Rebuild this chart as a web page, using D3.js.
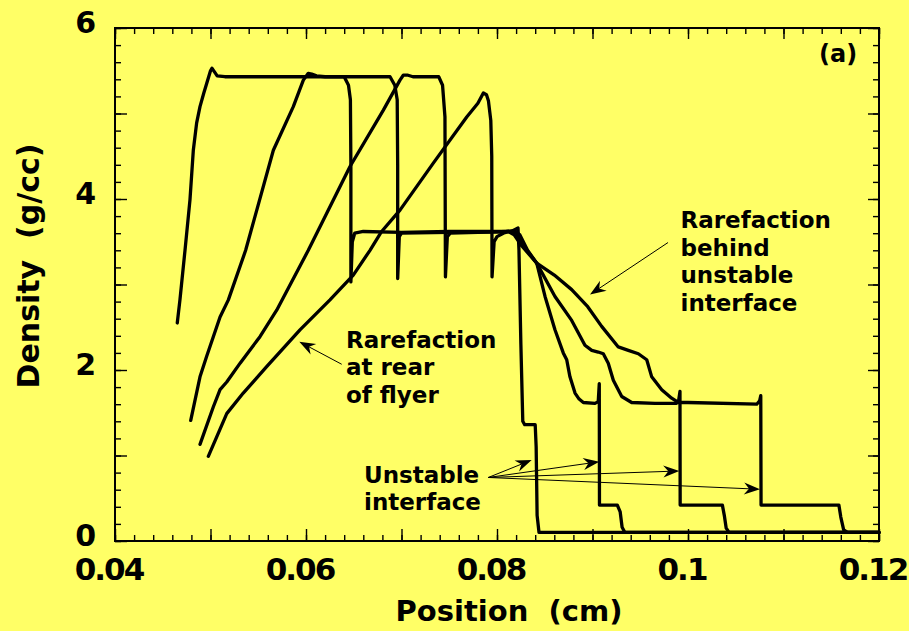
<!DOCTYPE html>
<html><head><meta charset="utf-8">
<script src="https://cdn.jsdelivr.net/npm/d3@7"></script>
<style>
html,body{margin:0;padding:0;background:#ffff66;}
svg{display:block;}
text{font-family:"DejaVu Sans",sans-serif;font-weight:bold;fill:#000;white-space:pre;}
</style></head><body>
<svg id="chart" width="909" height="631"></svg>
<script>
// ---- data: density (g/cc) vs position (cm) at four times ----
const snapshot1 = [[0.04652,2.55],[0.0468,2.82],[0.04733,3.40],[0.04785,3.99],[0.0482,4.57],[0.04855,4.89],[0.0489,5.08],[0.0493,5.24],[0.0496,5.35],[0.0500,5.50],[0.05015,5.53],[0.0504,5.49],[0.0507,5.44],[0.0515,5.43],[0.0600,5.43],[0.0640,5.43],[0.06445,5.33],[0.06465,5.16],[0.0647,4.4],[0.0647,3.03],[0.06485,3.50],[0.0651,3.60],[0.0660,3.62],[0.0700,3.61],[0.0750,3.62],[0.0800,3.62],[0.0815,3.62],[0.0822,3.66],[0.0823,3.4],[0.0825,2.3],[0.0827,1.40],[0.0829,1.36],[0.0840,1.36],[0.0841,1.1],[0.0842,0.3],[0.0844,0.1],[0.1200,0.1]];
const snapshot2 = [[0.04793,1.41],[0.0489,1.92],[0.0496,2.16],[0.0510,2.62],[0.05187,2.82],[0.05368,3.40],[0.05658,4.57],[0.05867,5.08],[0.05972,5.39],[0.06024,5.47],[0.0606,5.46],[0.0611,5.44],[0.0620,5.43],[0.0688,5.43],[0.0693,5.33],[0.06955,5.16],[0.0696,4.4],[0.0696,3.07],[0.06977,3.56],[0.0700,3.60],[0.0750,3.61],[0.0810,3.62],[0.0818,3.63],[0.0824,3.58],[0.0832,3.40],[0.08416,3.25],[0.08503,2.86],[0.08607,2.47],[0.08694,2.20],[0.0873,2.12],[0.08764,1.92],[0.08817,1.73],[0.0886,1.66],[0.08904,1.62],[0.09026,1.61],[0.0906,1.63],[0.09071,1.84],[0.09073,0.42],[0.0926,0.42],[0.0929,0.34],[0.0931,0.16],[0.0934,0.1],[0.1200,0.1]];
const snapshot3 = [[0.0489,1.13],[0.0503,1.57],[0.0510,1.77],[0.0517,1.86],[0.0531,2.08],[0.05518,2.39],[0.05693,2.70],[0.06024,3.40],[0.06461,4.38],[0.0681,5.04],[0.06984,5.39],[0.0702,5.45],[0.0706,5.45],[0.0712,5.43],[0.0739,5.43],[0.0743,5.33],[0.07455,4.96],[0.0746,3.09],[0.0748,3.56],[0.0751,3.60],[0.0780,3.61],[0.0812,3.62],[0.0820,3.60],[0.0828,3.45],[0.08416,3.25],[0.08607,2.86],[0.08782,2.58],[0.08921,2.29],[0.08992,2.23],[0.0906,2.21],[0.09113,2.19],[0.09165,2.08],[0.09218,1.88],[0.09306,1.69],[0.0941,1.62],[0.09654,1.61],[0.0988,1.61],[0.0990,1.63],[0.09916,1.75],[0.09918,0.42],[0.1036,0.42],[0.1038,0.30],[0.1040,0.15],[0.1043,0.1],[0.1200,0.1]];
const snapshot4 = [[0.04977,0.99],[0.0517,1.49],[0.05343,1.73],[0.05588,2.04],[0.05937,2.47],[0.06251,2.82],[0.06495,3.11],[0.0667,3.40],[0.06792,3.62],[0.06984,3.87],[0.07333,4.42],[0.07683,4.96],[0.0780,5.12],[0.07857,5.24],[0.0789,5.22],[0.0791,5.15],[0.07935,4.92],[0.07945,4.5],[0.07948,3.09],[0.0797,3.50],[0.0800,3.56],[0.08066,3.60],[0.0812,3.62],[0.0818,3.58],[0.0826,3.45],[0.08416,3.25],[0.0860,3.11],[0.08782,2.94],[0.0895,2.74],[0.09096,2.51],[0.0927,2.27],[0.09375,2.23],[0.0948,2.19],[0.09568,2.12],[0.0962,1.92],[0.09725,1.77],[0.09829,1.67],[0.09898,1.62],[0.1000,1.62],[0.1072,1.60],[0.1075,1.64],[0.10762,1.70],[0.10765,0.42],[0.1158,0.42],[0.1160,0.28],[0.1163,0.13],[0.1167,0.1],[0.1200,0.1]];

const xTickValues = [0.04, 0.06, 0.08, 0.1, 0.12];
const xTickLabels = ["0.04", "0.06", "0.08", "0.1", "0.12"];
const yTickValues = [0, 2, 4, 6];
const yTickLabels = ["0", "2", "4", "6"];
const xMajorTicks = [0.04, 0.05, 0.06, 0.07, 0.08, 0.09, 0.1, 0.11, 0.12];
const yMajorTicks = [0, 1, 2, 3, 4, 5, 6];
const xMinorTicks = d3.range(41).map(i => 0.04 + i * 0.002);
const yMinorTicks = d3.range(31).map(i => i * 0.2);

// annotations (label lines) and arrows [from, to] in data units
const noteBehind = ["Rarefaction", "behind", "unstable", "interface"];
const noteRear = ["Rarefaction", "at rear", "of flyer"];
const noteUnstable = ["Unstable", "interface"];
const arrowBehind = [[0.09791, 3.491], [0.08974, 2.883]];
const arrowRear = [[0.06374, 2.067], [0.0593, 2.331]];
const unstableFrom = [0.07909, 0.743];
const unstableTips = [[0.08363, 0.947], [0.09071, 0.927], [0.09909, 0.819], [0.10754, 0.605]];

// ---- layout ----
const W = 909, H = 631;
const svg = d3.select("#chart");
svg.append("rect").attr("width", W).attr("height", H).attr("fill", "#ffff66");

const x = d3.scaleLinear().domain([0.04, 0.12]).range([115, 879]);
const y = d3.scaleLinear().domain([0, 6]).range([541, 28]);
const [x0, x1] = x.range(), [y0, y1] = y.range();

function tickAxis(axisFn, scale, values, size, transform) {
  const g = svg.append("g").attr("transform", transform)
    .call(axisFn(scale).tickValues(values).tickSize(size).tickFormat(""));
  g.select(".domain").remove();
  g.selectAll(".tick line").attr("stroke", "#000").attr("stroke-width", 1.4);
}
// inward ticks on all four sides
tickAxis(d3.axisBottom, x, xMinorTicks, -6, `translate(0,${y0})`);
tickAxis(d3.axisBottom, x, xMajorTicks, -12, `translate(0,${y0})`);
tickAxis(d3.axisTop, x, xMinorTicks, -6, `translate(0,${y1})`);
tickAxis(d3.axisTop, x, xMajorTicks, -11, `translate(0,${y1})`);
tickAxis(d3.axisLeft, y, yMinorTicks, -6, `translate(${x0},0)`);
tickAxis(d3.axisLeft, y, yMajorTicks, -12, `translate(${x0},0)`);
tickAxis(d3.axisRight, y, yMinorTicks, -6, `translate(${x1},0)`);
tickAxis(d3.axisRight, y, yMajorTicks, -11, `translate(${x1},0)`);

svg.append("rect").attr("x", x0).attr("y", y1).attr("width", x1 - x0).attr("height", y0 - y1)
  .attr("fill", "none").attr("stroke", "#000").attr("stroke-width", 2);

// tick labels
svg.append("g").selectAll("text").data(xTickValues).join("text")
  .attr("x", d => x(d) - 6).attr("y", 580).attr("text-anchor", "middle")
  .attr("font-size", 31).attr("letter-spacing", -2)
  .text((d, i) => xTickLabels[i]);
svg.append("g").selectAll("text").data(yTickValues).join("text")
  .attr("x", 96).attr("y", d => y(d) + 5).attr("text-anchor", "end")
  .attr("font-size", 30)
  .text((d, i) => yTickLabels[i]);

// axis titles
svg.append("text").attr("x", 509).attr("y", 621).attr("text-anchor", "middle")
  .attr("font-size", 29).text("Position  (cm)");
svg.append("text").attr("transform", "translate(39,266) rotate(-90)").attr("text-anchor", "middle")
  .attr("font-size", 30).text("Density  (g/cc)");

// curves
const line = d3.line().x(d => x(d[0])).y(d => y(d[1]));
[snapshot1, snapshot2, snapshot3, snapshot4].forEach(s => {
  svg.append("path").datum(s).attr("d", line).attr("fill", "none")
    .attr("stroke", "#000").attr("stroke-width", 3.3)
    .attr("stroke-linejoin", "round").attr("stroke-linecap", "round");
});

// arrows
function arrow(from, to) {
  const ax = x(from[0]), ay = y(from[1]), bx = x(to[0]), by = y(to[1]);
  const dx = bx - ax, dy = by - ay, len = Math.hypot(dx, dy);
  const ux = dx / len, uy = dy / len, px = -uy, py = ux;
  const L = 16, Wd = 6, N = 11;
  svg.append("line").attr("x1", ax).attr("y1", ay)
    .attr("x2", bx - ux * N).attr("y2", by - uy * N)
    .attr("stroke", "#000").attr("stroke-width", 1);
  const pts = [[bx, by], [bx - ux * L + px * Wd, by - uy * L + py * Wd],
    [bx - ux * N, by - uy * N], [bx - ux * L - px * Wd, by - uy * L - py * Wd]];
  svg.append("path").attr("d", "M" + pts.map(p => p.join(",")).join("L") + "Z").attr("fill", "#000");
}
arrow(arrowBehind[0], arrowBehind[1]);
arrow(arrowRear[0], arrowRear[1]);
unstableTips.forEach(t => arrow(unstableFrom, t));

// annotation labels
function note(lines, px, py0) {
  svg.append("g").selectAll("text").data(lines).join("text")
    .attr("x", px).attr("y", (d, i) => py0 + i * 27.6)
    .attr("font-size", 23).text(d => d);
}
note(noteBehind, 680.5, 228);
note(noteRear, 346, 347.5);
note(noteUnstable, 364, 482.5);
svg.append("text").attr("x", 819).attr("y", 62).attr("font-size", 24).text("(a)");
</script>
</body></html>
